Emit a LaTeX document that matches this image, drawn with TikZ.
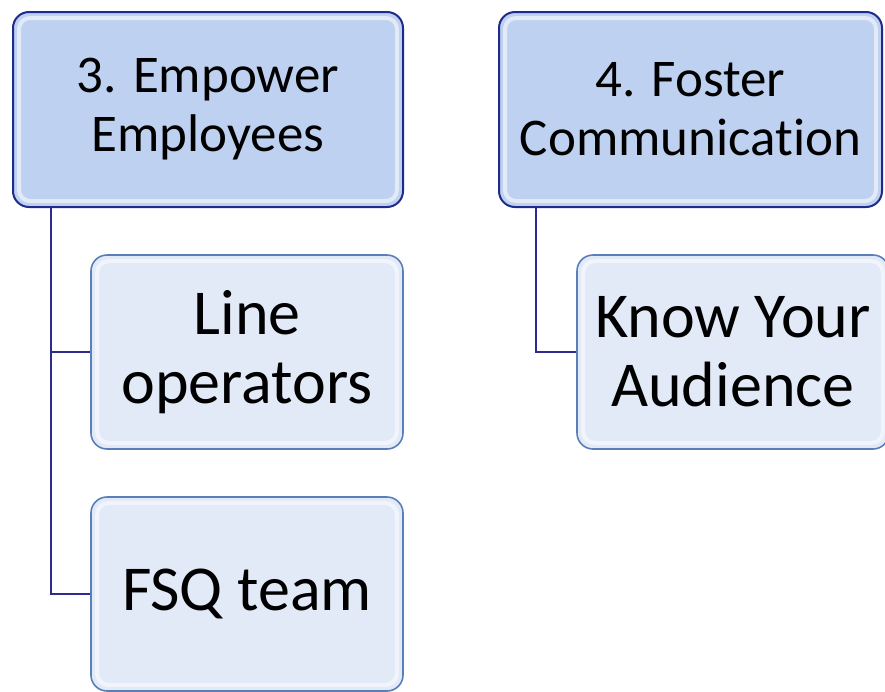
\documentclass[tikz,border=0pt]{standalone}
\usepackage{fontspec}
\setmainfont{Carlito}[Ligatures=NoCommon]
\usetikzlibrary{positioning}
\definecolor{pfill}{HTML}{BFD1F0}
\definecolor{pedge}{HTML}{1E2A8C}
\definecolor{cfill}{HTML}{E2EAF8}
\definecolor{cedge}{HTML}{5A7FB8}
\definecolor{lcol}{HTML}{2E2A8E}
\begin{document}
\begin{tikzpicture}[x=1pt,y=1pt,
  parentbox/.style={draw=pedge,line width=2pt,fill=pfill,rounded corners=16pt,
    minimum width=390pt,minimum height=195pt,align=center,inner sep=0pt,
    font=\fontsize{53}{59}\selectfont},
  childbox/.style={draw=cedge,line width=1.6pt,fill=cfill,rounded corners=16pt,
    minimum width=312pt,minimum height=194pt,align=center,inner sep=0pt,
    font=\fontsize{64}{69}\selectfont},
  hi/.style={draw=white,opacity=0.55,line width=4pt,rounded corners=11pt},
  conn/.style={draw=lcol,line width=1.8pt}]
\useasboundingbox (0,0) rectangle (885,-691);
\node[parentbox] (b3) at (208,-109.5) {3. Empower\\Employees};
\node[parentbox,minimum width=383pt] (b4) at (690.5,-109.5) {4. Foster\\Communication};
\node[childbox] (lo) at (247,-352) {Line\\operators};
\node[childbox] (fsq) at (247,-594) {FSQ team};
\node[childbox] (kya) at (733,-352) {Know Your\\Audience};
\foreach \n in {b3,b4,lo,fsq,kya}{
  \draw[hi] ([shift={(7pt,-7pt)}]\n.north west) rectangle ([shift={(-7pt,7pt)}]\n.south east);
}
\draw[conn] ([xshift=39pt]b3.south west) |- (lo.west);
\draw[conn] ([xshift=39pt]b3.south west) |- (fsq.west);
\draw[conn] ([xshift=38pt]b4.south west) |- (kya.west);
\end{tikzpicture}
\end{document}
